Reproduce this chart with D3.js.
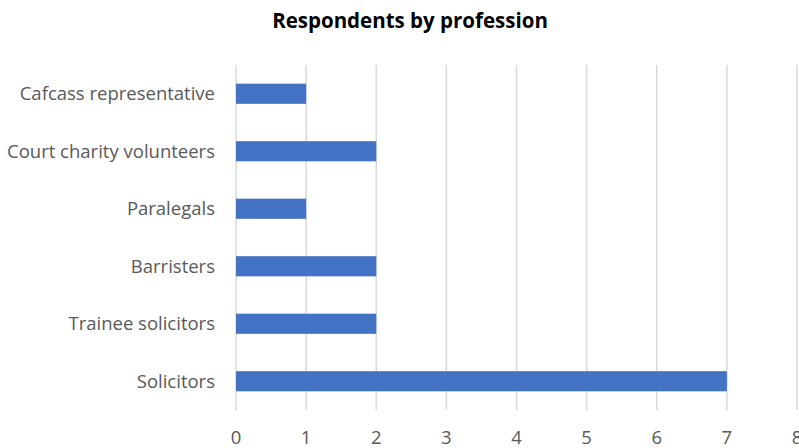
<!DOCTYPE html>
<html>
<head>
<meta charset="utf-8">
<script src="https://cdn.jsdelivr.net/npm/d3@7"></script>
<style>
  body { margin: 0; background: #fff; }
  text { font-family: "Open Sans", sans-serif; }
</style>
</head>
<body>
<div id="chart"></div>
<script>
(function () {
    'use strict';
    var width = 799;
    var height = 448;

    var categories = ['Cafcass representative', 'Court charity volunteers', 'Paralegals',
        'Barristers', 'Trainee solicitors', 'Solicitors'];
    var counts = [1, 2, 1, 2, 2, 7];
    var xTicks = [0, 1, 2, 3, 4, 5, 6, 7, 8];

    var margin = {top: 65, left: 236, right: 2, bottom: 38};

    var svg = d3.select('#chart')
        .append('svg')
        .attr('width', width)
        .attr('height', height);

    var x = d3.scaleLinear().domain([0, 8]).range([margin.left, width - margin.right]);
    var y = d3.scaleBand().domain(categories)
        .range([margin.top, height - margin.bottom])
        .paddingInner(0.65).paddingOuter(0.325);

    // title
    svg.append('text')
        .attr('x', 410)
        .attr('y', 28)
        .attr('text-anchor', 'middle')
        .attr('font-size', 20.5)
        .attr('font-weight', 'bold')
        .attr('fill', '#000')
        .text('Respondents by profession');

    // gridlines
    svg.append('g').selectAll('line')
        .data(xTicks)
        .enter()
        .append('line')
        .attr('x1', function (d) { return x(d); })
        .attr('x2', function (d) { return x(d); })
        .attr('y1', margin.top)
        .attr('y2', height - margin.bottom)
        .attr('stroke', '#d9d9d9')
        .attr('stroke-width', 1.5);

    // bars
    svg.append('g').selectAll('rect')
        .data(counts)
        .enter()
        .append('rect')
        .attr('x', x(0))
        .attr('y', function (d, i) { return y(categories[i]); })
        .attr('width', function (d) { return x(d) - x(0); })
        .attr('height', y.bandwidth())
        .attr('fill', '#4472c4');

    // category labels
    svg.append('g').selectAll('text')
        .data(categories)
        .enter()
        .append('text')
        .attr('x', 215)
        .attr('y', function (d) { return y(d) + y.bandwidth() / 2; })
        .attr('dy', '0.35em')
        .attr('text-anchor', 'end')
        .attr('font-size', 18.5)
        .attr('fill', '#595959')
        .text(function (d) { return d; });

    // x tick labels
    svg.append('g').selectAll('text')
        .data(xTicks)
        .enter()
        .append('text')
        .attr('x', function (d) { return x(d); })
        .attr('y', 444)
        .attr('text-anchor', 'middle')
        .attr('font-size', 18.5)
        .attr('fill', '#595959')
        .text(function (d) { return d; });
}());
</script>
</body>
</html>
